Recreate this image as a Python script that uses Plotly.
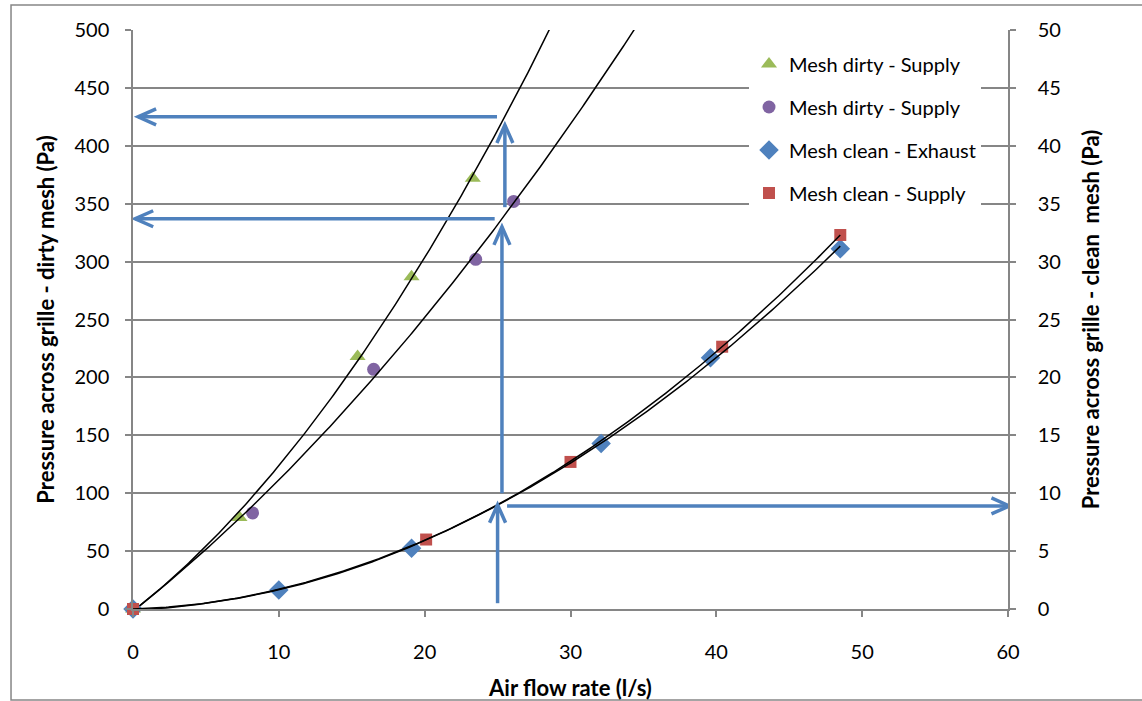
import numpy as np
import plotly.graph_objects as go

# ---------------- data ----------------
dirty_a_x = [0, 7.3, 15.4, 19.1, 23.3]
dirty_a_y = [0, 79, 218, 287, 372]          # Pa (left axis)
dirty_b_x = [0, 8.2, 16.5, 23.5, 26.1]
dirty_b_y = [0, 83, 207, 302, 352]          # Pa (left axis)
clean_ex_x = [0, 10.0, 19.1, 32.1, 39.6, 48.5]
clean_ex_y = [0, 1.64, 5.25, 14.3, 21.7, 31.1]   # Pa (right axis)
clean_su_x = [0, 20.1, 30.0, 40.4, 48.5]
clean_su_y = [0, 6.0, 12.7, 22.65, 32.3]         # Pa (right axis)

names = ["Mesh dirty - Supply", "Mesh dirty - Supply", "Mesh clean - Exhaust", "Mesh clean - Supply"]

# annotation arrows (x0, y0) -> tip (x1, y1) in left-axis data units
arrows = [
    (25.0, 5, 25.0, 90),
    (25.3, 100, 25.3, 330),
    (25.5, 347, 25.5, 418),
    (24.96, 425, 0.35, 425),
    (24.8, 337, 0.15, 337),
    (25.65, 89, 60.1, 89),
]

# ---------------- style ----------------
GREEN, PURPLE, BLUE, RED = "#9BBB59", "#8064A2", "#4F81BD", "#C0504D"
GRID = "#868686"
FONT = "Lato"

fig = go.Figure()

fig.add_trace(go.Scatter(x=dirty_a_x, y=dirty_a_y, mode="markers", name=names[0],
                         legendgroup="a", cliponaxis=False,
                         marker=dict(symbol="triangle-up", size=14, color=GREEN)))
fig.add_trace(go.Scatter(x=dirty_b_x, y=dirty_b_y, mode="markers", name=names[1],
                         legendgroup="b", cliponaxis=False,
                         marker=dict(symbol="circle", size=13, color=PURPLE)))
fig.add_trace(go.Scatter(x=clean_ex_x, y=clean_ex_y, mode="markers", name=names[2],
                         legendgroup="c", yaxis="y2", cliponaxis=False,
                         marker=dict(symbol="diamond", size=15, color=BLUE)))
fig.add_trace(go.Scatter(x=clean_su_x, y=clean_su_y, mode="markers", name=names[3],
                         legendgroup="d", yaxis="y2", cliponaxis=False,
                         marker=dict(symbol="square", size=12, color=RED)))

# polynomial (order 2) trendlines fitted to each series
def trend(xs, ys, xmax, yaxis):
    c = np.polyfit(xs, ys, 2)
    xx = np.linspace(0, xmax, 300)
    fig.add_trace(go.Scatter(x=xx, y=np.polyval(c, xx), mode="lines", showlegend=False,
                             yaxis=yaxis, hoverinfo="skip",
                             line=dict(color="black", width=1.5)))

trend(dirty_a_x, dirty_a_y, 36, "y")
trend(dirty_b_x, dirty_b_y, 36, "y")
trend(clean_ex_x, clean_ex_y, max(clean_ex_x), "y2")
trend(clean_su_x, clean_su_y, max(clean_su_x), "y2")

# arrows: shaft + open V head
shapes = []
for x0, y0, x1, y1 in arrows:
    shapes.append(dict(type="line", xref="x", yref="y", x0=x0, y0=y0, x1=x1, y1=y1,
                       line=dict(color=BLUE, width=3.5), layer="above"))
    if x0 == x1:
        s = 1 if y1 > y0 else -1
        path = f"M -8 {-18*s} L 0 0 L 8 {-18*s}"
    else:
        s = 1 if x1 > x0 else -1
        path = f"M {-18*s} 8 L 0 0 L {-18*s} -8"
    shapes.append(dict(type="path", xref="x", yref="y", xsizemode="pixel", ysizemode="pixel",
                       xanchor=x1, yanchor=y1, path=path,
                       line=dict(color=BLUE, width=3.5), layer="above"))

# outer chart border
shapes.append(dict(type="rect", xref="paper", yref="paper",
                   x0=-0.1394, x1=1.16, y0=-0.1572, y1=1.0432,
                   line=dict(color=GRID, width=1.5), layer="below"))

axis_common = dict(showline=True, linecolor=GRID, linewidth=1.5, ticks="outside",
                   ticklen=6, tickcolor=GRID, tickwidth=1.5, zeroline=False,
                   automargin=False,
                   tickfont=dict(family=FONT, size=20, color="black"))

TITLE_FONT = dict(family=FONT, size=22, color="black")

fig.update_layout(
    width=1142, height=701,
    margin=dict(l=133, r=134, t=30, b=92),
    paper_bgcolor="white", plot_bgcolor="white",
    font=dict(family=FONT, color="black"),
    shapes=shapes,
    xaxis=dict(range=[0, 60], dtick=10, showgrid=False, ticklabelstandoff=18,
               title=dict(text="<b>Air flow rate (l/s)</b>", font=TITLE_FONT, standoff=19),
               **axis_common),
    yaxis=dict(range=[0, 500], dtick=50, showgrid=True, gridcolor=GRID, gridwidth=1.5,
               ticklabelstandoff=12,
               title=dict(text="<b>Pressure across grille - dirty mesh (Pa)</b>",
                          font=TITLE_FONT, standoff=14),
               **axis_common),
    yaxis2=dict(range=[0, 50], dtick=5, overlaying="y", side="right", showgrid=False,
                ticklabelstandoff=18,
                title=dict(text="<b>Pressure across grille - clean  mesh (Pa)</b>",
                           font=TITLE_FONT, standoff=24),
                **axis_common),
    legend=dict(x=0.704, xanchor="left", y=0.975, yanchor="top", bgcolor="white",
                font=dict(family=FONT, size=20, color="black"), tracegroupgap=14,
                itemwidth=30),
    showlegend=True,
)

fig.write_html("out.html")
